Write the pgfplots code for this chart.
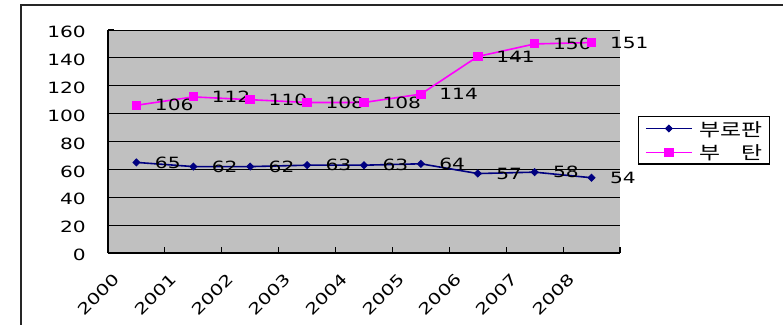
\documentclass[border=0pt]{standalone}
\usepackage{fontspec}
\usepackage{graphicx}
\setmainfont{DejaVu Sans}[FakeStretch=1.3]
\newfontfamily\kr{Noto Sans CJK KR}
\usepackage{pgfplots}
\pgfplotsset{compat=1.18}
\definecolor{plotgray}{HTML}{C0C0C0}
\definecolor{navyc}{HTML}{000080}
\definecolor{magc}{HTML}{FF00FF}
\newcommand{\lblfont}{\fontsize{15.5}{18}\selectfont}
\newcommand{\krw}[1]{\scalebox{1.27}[1]{#1}}
\begin{document}
\begin{tikzpicture}
\useasboundingbox (0pt,0pt) rectangle (783pt,324pt);
\fill[white] (0pt,0pt) rectangle (783pt,324pt);
\draw[line width=2pt, black!85] (21pt,-5pt) -- (21pt,319pt) -- (790pt,319pt);
\begin{axis}[
  at={(108pt,71pt)}, anchor=south west,
  scale only axis, width=512pt, height=223pt,
  xmin=-0.5, xmax=8.5, ymin=0, ymax=160,
  axis lines=left,
  axis line style={-, line width=1.2pt, black},
  axis background/.style={fill=plotgray},
  ymajorgrids, grid style={black, line width=0.9pt},
  ytick={0,20,...,160},
  xtick={-0.5,0.5,1.5,2.5,3.5,4.5,5.5,6.5,7.5,8.5},
  xticklabels={2000,2001,2002,2003,2004,2005,2006,2007,2008,{}},
  tick align=inside, major tick length=6pt,
  tick style={black, line width=1.2pt},
  /pgf/number format/assume math mode=true,
  yticklabel style={anchor=east, inner sep=0pt, xshift=-22pt, yshift=-2pt, font=\lblfont},
  xticklabel style={xshift=9pt, yshift=-23pt, rotate=45, anchor=east, inner sep=0pt, font=\lblfont},
  clip=false,
  nodes near coords,
  every node near coord/.append style={anchor=west, xshift=18pt, inner sep=0pt, font=\lblfont, text=black},
  legend image code/.code={\draw[mark repeat=2,mark phase=2,#1,line width=1pt] plot coordinates {(0pt,0pt) (23pt,0pt) (46pt,0pt)};},
  legend style={at={(1.0346,0.615)}, anchor=north west, draw=black, line width=1.3pt,
    inner xsep=7pt, inner ysep=3.5pt, row sep=6.6pt,
    nodes={inner sep=0pt, text height=16pt, text depth=1pt},
    /tikz/every odd column/.append style={column sep=7pt},
    font=\kr\fontsize{18}{20}\selectfont},
  legend cell align=left,
]
\addplot[color=navyc, line width=1.6pt, mark=diamond*, mark size=3.4pt, mark options={xscale=1.33, solid, fill=navyc, line width=1pt}]
  coordinates {(0,65)(1,62)(2,62)(3,63)(4,63)(5,64)(6,57)(7,58)(8,54)};
\addlegendentry{\krw{부로판}\hspace{2pt}}
\addplot[color=magc, line width=1.6pt, mark=square*, mark size=4.3pt, mark options={yscale=0.92, solid, fill=magc, line width=1pt}]
  coordinates {(0,106)(1,112)(2,110)(3,108)(4,108)(5,114)(6,141)(7,150)(8,151)};
\addlegendentry{\krw{부\phantom{로}탄}\hspace{2pt}}
\end{axis}
\end{tikzpicture}
\end{document}
